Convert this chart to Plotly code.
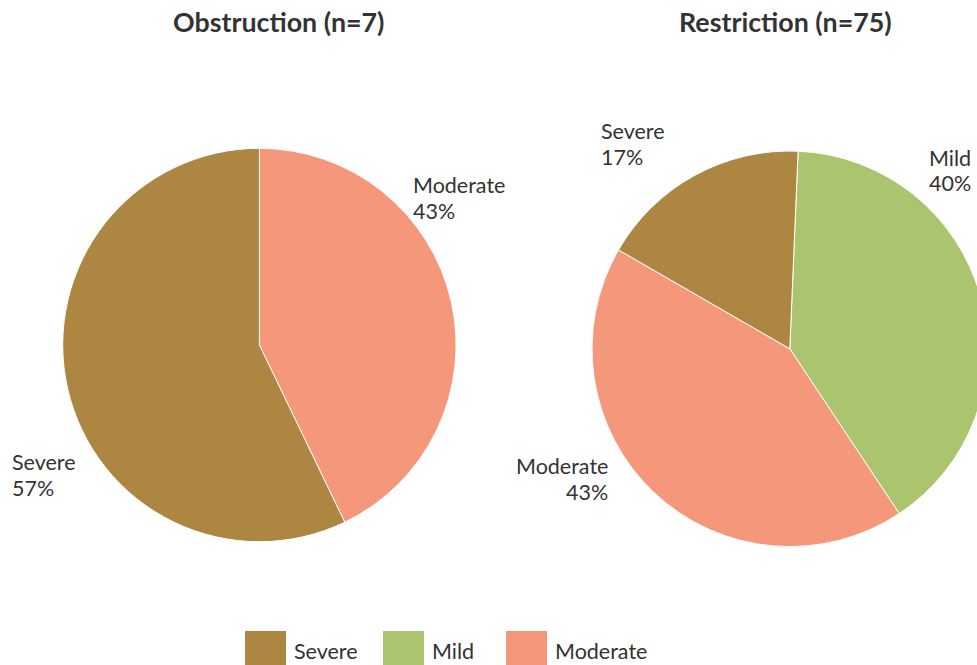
import plotly.graph_objects as go

# Data
obstruction_labels = ["Moderate", "Severe"]
obstruction_counts = [3, 4]
restriction_labels = ["Mild", "Moderate", "Severe"]
restriction_counts = [30, 32, 13]
legend_order = ["Severe", "Mild", "Moderate"]

COLOR_MAP = {
    "Severe": "#AD8642",
    "Mild": "#ABC56F",
    "Moderate": "#F5977A",
}
TEXT_COLOR = "#333333"
FONT = "Lato, 'Open Sans', sans-serif"
LABEL_SIZE = 21.5
TITLE_SIZE = 26.8

# Canvas is larger than the viewport, so the right pie and legend get cropped
W, H = 1000, 700


def px_x(x):
    return x / W


def px_y(y):
    return 1 - y / H


def pct_lines(labels, counts):
    total = sum(counts)
    return {lab: (lab, f"{round(100 * c / total)}%") for lab, c in zip(labels, counts)}


fig = go.Figure()

fig.add_trace(go.Pie(
    labels=obstruction_labels, values=obstruction_counts,
    marker=dict(colors=[COLOR_MAP[l] for l in obstruction_labels],
                line=dict(color="white", width=1)),
    sort=False, direction="clockwise", rotation=0,
    textinfo="none", hoverinfo="label+percent+value", showlegend=False,
    domain=dict(x=[px_x(62.7), px_x(456.1)], y=[px_y(541.7), px_y(148.3)]),
))

fig.add_trace(go.Pie(
    labels=restriction_labels, values=restriction_counts,
    marker=dict(colors=[COLOR_MAP[l] for l in restriction_labels],
                line=dict(color="white", width=1)),
    sort=False, direction="clockwise", rotation=2.4,
    textinfo="none", hoverinfo="label+percent+value", showlegend=False,
    domain=dict(x=[px_x(592.0), px_x(987.6)], y=[px_y(546.6), px_y(151.0)]),
))

annotations = []

# Panel titles
for text, cx in [(f"Obstruction (n={sum(obstruction_counts)})", 278),
                 (f"Restriction (n={sum(restriction_counts)})", 785)]:
    annotations.append(dict(
        x=px_x(cx), y=px_y(22.5), xref="paper", yref="paper",
        text=f"<b>{text}</b>", showarrow=False,
        xanchor="center", yanchor="middle",
        font=dict(family=FONT, size=TITLE_SIZE, color=TEXT_COLOR),
    ))

# Slice labels: (text edge x, first line y, second line y, alignment)
left_pos = {"Moderate": (414, 184.5, 211, "left"), "Severe": (13, 462, 488, "left")}
right_pos = {"Mild": (930, 158, 183.5, "left"), "Moderate": (608, 465.5, 491.5, "right"),
             "Severe": (601.5, 131.5, 157.5, "left")}

for texts, pos in [(pct_lines(obstruction_labels, obstruction_counts), left_pos),
                   (pct_lines(restriction_labels, restriction_counts), right_pos)]:
    for lab, (name, pct) in texts.items():
        x, y1, y2, align = pos[lab]
        x_adj = x - 3 if align == "left" else x + 2
        for line, y in [(name, y1), (pct, y2)]:
            annotations.append(dict(
                x=px_x(x_adj), y=px_y(y), xref="paper", yref="paper",
                text=line, showarrow=False, align=align,
                xanchor=align, yanchor="middle",
                font=dict(family=FONT, size=LABEL_SIZE, color=TEXT_COLOR),
            ))

# Legend drawn by hand to get the large square swatches
shapes = []
legend_x = {"Severe": 245, "Mild": 383, "Moderate": 506}
for lab in legend_order:
    x0 = legend_x[lab]
    shapes.append(dict(
        type="rect", xref="paper", yref="paper",
        x0=px_x(x0), x1=px_x(x0 + 41), y0=px_y(672), y1=px_y(631),
        fillcolor=COLOR_MAP[lab], line=dict(width=0),
    ))
    annotations.append(dict(
        x=px_x(x0 + 46.5), y=px_y(650.5), xref="paper", yref="paper",
        text=lab, showarrow=False, xanchor="left", yanchor="middle",
        font=dict(family=FONT, size=LABEL_SIZE, color=TEXT_COLOR),
    ))

fig.update_layout(
    width=W, height=H,
    margin=dict(l=0, r=0, t=0, b=0),
    paper_bgcolor="white", plot_bgcolor="white",
    font=dict(family=FONT, color=TEXT_COLOR),
    annotations=annotations, shapes=shapes,
)

fig.write_html(
    "out.html",
    config={"displayModeBar": False},
    post_script="document.body.style.margin='0';document.body.style.overflow='hidden';",
)
